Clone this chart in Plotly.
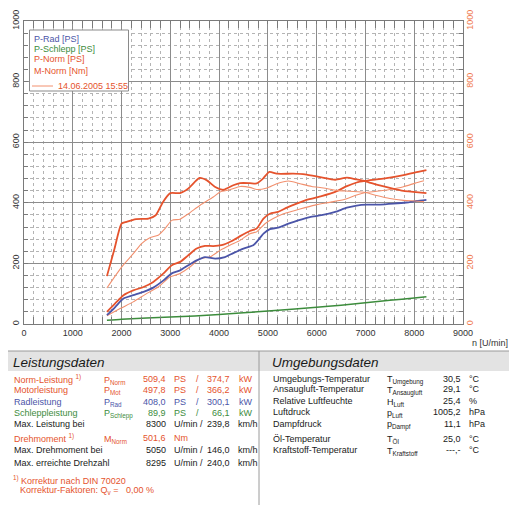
"""
Dyno run sheet: power and torque over engine speed, with the
Leistungsdaten / Umgebungsdaten tables underneath.
"""

import plotly.graph_objects as go

# --- current run -----------------------------------------------------------
m_norm_rpm = [1700, 1850, 2000, 2100, 2300, 2550, 2700, 2850, 3000, 3200, 3370,
              3600, 3750, 3920, 4090, 4290, 4430, 4630, 4770, 4900, 5030, 5180,
              5520, 5760, 6070, 6380, 6620, 6820, 7000, 7230, 7500, 7780, 7980, 8250]
m_norm_nm = [158, 245, 331, 337, 346, 348, 359, 403, 432, 432, 447,
             482, 474, 452, 443, 458, 465, 465, 464, 480, 502, 496,
             496, 494, 485, 476, 483, 477, 471, 460, 449, 439, 436, 432]

p_norm_rpm = [1700, 1870, 2040, 2240, 2450, 2650, 2860, 3030, 3200, 3370, 3540,
              3710, 3880, 4050, 4260, 4430, 4630, 4770, 4910, 5040, 5210, 5390,
              5590, 5830, 6100, 6380, 6620, 6820, 6990, 7230, 7500, 7780, 8080, 8250]
p_norm_ps = [40, 68, 95, 111, 122, 139, 167, 194, 205, 227, 249,
             258, 257, 260, 274, 290, 307, 315, 348, 364, 370, 384,
             397, 411, 422, 436, 455, 467, 472, 477, 483, 491, 502, 508]

p_rad_rpm = [1700, 1870, 2040, 2240, 2450, 2650, 2860, 3030, 3200, 3370, 3540,
             3710, 3920, 4120, 4290, 4500, 4700, 4770, 4910, 5040, 5210, 5420,
             5620, 5860, 6100, 6380, 6620, 6820, 7030, 7300, 7570, 7840, 8050, 8250]
p_rad_ps = [29, 56, 84, 95, 106, 120, 144, 167, 177, 194, 210,
            221, 216, 221, 234, 249, 260, 271, 298, 313, 318, 331,
            342, 353, 359, 370, 384, 391, 394, 394, 397, 401, 406, 410]

p_schlepp_rpm = [1700, 2000, 3000, 4000, 5000, 6000, 6500, 7000, 7500, 8000, 8250]
p_schlepp_ps = [12, 16, 23, 31, 43, 55, 62, 70, 78, 86, 90]

# --- comparison run 14.06.2005 15:55 ----------------------------------------
ref_m_rpm = [1700, 2000, 2240, 2410, 2580, 2750, 2890, 3030, 3200, 3370, 3610,
             3880, 4020, 4220, 4430, 4630, 4770, 4980, 5180, 5420, 5660, 5900,
             6140, 6410, 6680, 7000, 7230, 7500, 7780, 8020, 8200]
ref_m_nm = [119, 188, 232, 265, 285, 293, 315, 342, 346, 364, 392,
            419, 436, 443, 454, 451, 444, 449, 463, 472, 463, 454,
            449, 441, 438, 434, 424, 414, 408, 406, 404]

ref_p_rpm = [1700, 1970, 2240, 2520, 2750, 2990, 3200, 3400, 3610, 3810, 4020,
             4220, 4430, 4630, 4770, 4940, 5110, 5320, 5520, 5760, 6000, 6310,
             6580, 6820, 7000, 7230, 7500, 7780, 8020, 8200]
ref_p_ps = [27, 51, 73, 101, 122, 155, 167, 188, 216, 221, 243,
            260, 276, 298, 304, 331, 348, 364, 373, 384, 394, 403,
            412, 426, 434, 438, 444, 453, 465, 473]

axis_ticks = [0, 200, 400, 600, 800, 1000]
legend_labels = ["P-Rad [PS]", "P-Schlepp [PS]", "P-Norm [PS]", "M-Norm [Nm]"]
run_label = "14.06.2005 15:55"

# Leistungsdaten table
perf_labels = ["Norm-Leistung <sup>1)</sup>", "Motorleistung", "Radleistung",
               "Schleppleistung"]
perf_symbols = ["P<sub>Norm</sub>", "P<sub>Mot</sub>", "P<sub>Rad</sub>",
                "P<sub>Schlepp</sub>"]
perf_ps = ["509,4", "497,8", "408,0", "89,9"]
perf_kw = ["374,7", "366,2", "300,1", "66,1"]

# Umgebungsdaten table
env_labels = ["Umgebungs-Temperatur", "Ansaugluft-Temperatur", "Relative Luftfeuchte",
              "Luftdruck", "Dampfdruck", "Öl-Temperatur", "Kraftstoff-Temperatur"]
env_symbols = ["T<sub>Umgebung</sub>", "T<sub>Ansaugluft</sub>", "H<sub>Luft</sub>",
               "p<sub>Luft</sub>", "p<sub>Dampf</sub>", "T<sub>Öl</sub>",
               "T<sub>Kraftstoff</sub>"]
env_values = ["30,5", "29,1", "25,4", "1005,2", "11,1", "25,0", "---,-"]
env_units = ["°C", "°C", "%", "hPa", "hPa", "°C", "°C"]

BLUE = "#4b55a8"
GREEN = "#3c8c3c"
ORANGE = "#e5532d"
LIGHT = "#f2906e"
TEXT = "#1a1a1a"
FONT = "Liberation Sans, Arial, sans-serif"

# the page body adds an 8px margin, so the figure is drawn 8px smaller
# and all page-pixel positions below are shifted by that offset
OFF = 8
W, H = 517, 505
PL, PR, PT, PB = 24, 463, 21, 324


def fx(px):
    return (px - PL) / (PR - PL)


def fy(py):
    return (PB - py) / (PB - PT)


fig = go.Figure()


def curve(x, y, color, width, axis="y"):
    fig.add_trace(go.Scatter(x=x, y=y, mode="lines", yaxis=axis, showlegend=False,
                             hoverinfo="skip",
                             line=dict(color=color, width=width, shape="spline",
                                       smoothing=0.6)))


curve(p_schlepp_rpm, p_schlepp_ps, GREEN, 1.5)
curve(ref_m_rpm, ref_m_nm, LIGHT, 1.1, "y2")
curve(ref_p_rpm, ref_p_ps, LIGHT, 1.1)
curve(p_rad_rpm, p_rad_ps, BLUE, 1.8)
curve(p_norm_rpm, p_norm_ps, ORANGE, 1.8)
curve(m_norm_rpm, m_norm_nm, ORANGE, 1.8, "y2")

grid = dict(showgrid=True, gridcolor="#8c8c8c", gridwidth=1, automargin=False,
            showline=True, linecolor="#7a7a7a", linewidth=1, mirror="ticks",
            ticks="inside", ticklen=3, tickcolor="#7a7a7a",
            tickfont=dict(family=FONT, size=9, color="#333333"), zeroline=False)

fig.update_layout(
    width=W - OFF, height=H - OFF,
    margin=dict(l=PL - OFF, r=W - PR, t=PT - OFF, b=H - PB, pad=0),
    paper_bgcolor="white", plot_bgcolor="white",
    font=dict(family=FONT, size=9, color=TEXT),
    xaxis=dict(range=[0, 9000], dtick=1000, tick0=0,
               minor=dict(dtick=200, showgrid=True, gridcolor="#b4b4b4",
                          griddash="3px,3px", ticks="inside", ticklen=7,
                          tickcolor="#7a7a7a"),
               **grid),
    yaxis=dict(range=[0, 1000], tickvals=axis_ticks, tickangle=-90,
               minor=dict(dtick=40, showgrid=True, gridcolor="#b4b4b4",
                          griddash="3px,3px", ticks="inside", ticklen=4,
                          tickcolor="#7a7a7a"),
               **grid),
    yaxis2=dict(range=[0, 1000], tickvals=axis_ticks, tickangle=-90,
                overlaying="y", side="right", showgrid=False, zeroline=False,
                showline=False, ticks="", automargin=False,
                tickfont=dict(family=FONT, size=9, color="#f07a4e")),
)

shapes = []
annots = []


def text(px, py, s, color=TEXT, size=9, anchor="left"):
    annots.append(dict(x=fx(px), y=fy(py), xref="paper", yref="paper", text=s,
                       showarrow=False, xanchor=anchor, yanchor="middle",
                       font=dict(family=FONT, size=size, color=color)))


# legend box
shapes.append(dict(type="rect", xref="paper", yref="paper", x0=fx(29.5), x1=fx(128.5),
                   y0=fy(91), y1=fy(30), fillcolor="white",
                   line=dict(color="#8a8a8a", width=1), layer="above"))
shapes.append(dict(type="line", xref="paper", yref="paper", x0=fx(32), x1=fx(53),
                   y0=fy(86), y1=fy(86), line=dict(color=LIGHT, width=1), layer="above"))
for label, color, py in zip(legend_labels, [BLUE, GREEN, ORANGE, ORANGE],
                            [39, 49, 59, 71]):
    text(32, py, label, color)
text(56, 86, run_label, ORANGE)

text(510, 343, "n [U/min]", "#333333", anchor="right")

# table frame
shapes.append(dict(type="rect", xref="paper", yref="paper", x0=fx(OFF), x1=fx(W),
                   y0=fy(371), y1=fy(351), fillcolor="#e3e3e3", line=dict(width=0)))
shapes.append(dict(type="line", xref="paper", yref="paper", x0=fx(OFF), x1=fx(W),
                   y0=fy(351), y1=fy(351), line=dict(color="#9a9a9a", width=1)))
shapes.append(dict(type="line", xref="paper", yref="paper", x0=fx(259), x1=fx(259),
                   y0=fy(351), y1=fy(H), line=dict(color="#9a9a9a", width=1)))

text(11, 362, "<i>Leistungsdaten</i>", TEXT, 13.5)
text(270, 362, "<i>Umgebungsdaten</i>", TEXT, 13.5)

row_y = [379, 390, 401.5, 412.5]
for label, sym, ps, kw, color, py in zip(perf_labels, perf_symbols, perf_ps, perf_kw,
                                         [ORANGE, ORANGE, BLUE, GREEN], row_y):
    text(12, py, label, color)
    text(102, py + 1, sym, color)
    text(168, py, ps, color, anchor="right")
    text(172, py, "PS", color)
    text(197, py, "/", color, anchor="center")
    text(232, py, kw, color, anchor="right")
    text(237, py, "kW", color)

text(12, 424, "Max. Leistung bei")
text(168, 424, "8300", anchor="right")
text(172, 424, "U/min /")
text(232, 424, "239,8", anchor="right")
text(236, 424, "km/h")

text(12, 438, "Drehmoment <sup>1)</sup>", ORANGE)
text(102, 439, "M<sub>Norm</sub>", ORANGE)
text(168, 438, "501,6", ORANGE, anchor="right")
text(172, 438, "Nm", ORANGE)

text(12, 449.5, "Max. Drehmoment bei")
text(168, 449.5, "5050", anchor="right")
text(172, 449.5, "U/min /")
text(232, 449.5, "146,0", anchor="right")
text(236, 449.5, "km/h")

text(12, 463, "Max. erreichte Drehzahl")
text(168, 463, "8295", anchor="right")
text(172, 463, "U/min /")
text(232, 463, "240,0", anchor="right")
text(236, 463, "km/h")

text(11, 479.5, "<sup>1)</sup> Korrektur nach DIN 70020", ORANGE)
text(18, 490.5, "Korrektur-Faktoren: Q<sub>v</sub> =   0,00 %", ORANGE)

env_y = [379, 389.5, 401, 412, 423.5, 438.5, 450]
for label, sym, val, unit, py in zip(env_labels, env_symbols, env_values, env_units, env_y):
    text(271, py, label)
    text(385, py + 1, sym)
    text(463, py, val, anchor="right")
    text(467, py, unit)

fig.update_layout(shapes=shapes, annotations=annots)

fig.write_html("out.html")
